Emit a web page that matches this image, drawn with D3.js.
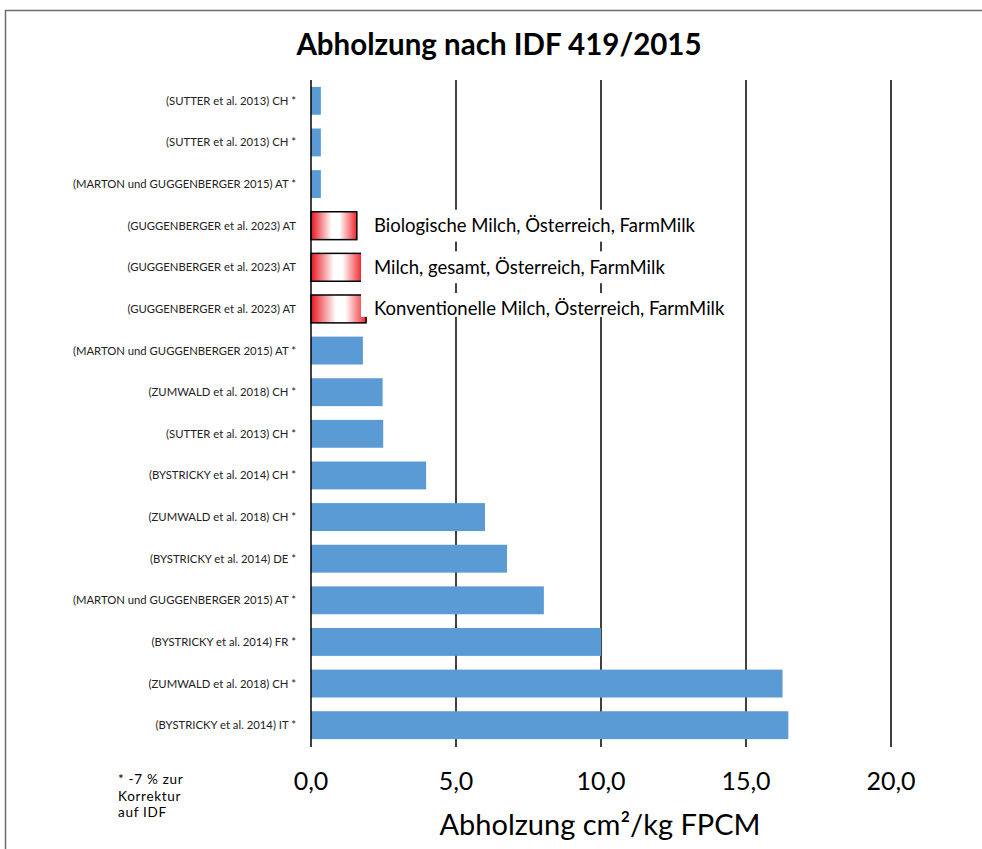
<!DOCTYPE html>
<html><head><meta charset="utf-8">
<script src="https://cdn.jsdelivr.net/npm/d3@7"></script>
<style>body{margin:0;background:#fff;}svg{display:block;}</style>
</head><body>
<script>
const categories = [
  "(SUTTER et al. 2013) CH *",
  "(SUTTER et al. 2013) CH *",
  "(MARTON und GUGGENBERGER 2015) AT *",
  "(GUGGENBERGER et al. 2023) AT",
  "(GUGGENBERGER et al. 2023) AT",
  "(GUGGENBERGER et al. 2023) AT",
  "(MARTON und GUGGENBERGER 2015) AT *",
  "(ZUMWALD et al. 2018) CH *",
  "(SUTTER et al. 2013) CH *",
  "(BYSTRICKY et al. 2014) CH *",
  "(ZUMWALD et al. 2018) CH *",
  "(BYSTRICKY et al. 2014) DE *",
  "(MARTON und GUGGENBERGER 2015) AT *",
  "(BYSTRICKY et al. 2014) FR *",
  "(ZUMWALD et al. 2018) CH *",
  "(BYSTRICKY et al. 2014) IT *"
];
const values = [0.34, 0.34, 0.34, 1.58, 1.75, 1.9, 1.79, 2.47, 2.49, 3.97, 6.0, 6.76, 8.03, 10.0, 16.26, 16.46];
const highlighted = [false, false, false, true, true, true, false, false, false, false, false, false, false, false, false, false];
const annotations = [
  {row: 3, text: "Biologische Milch, Österreich, FarmMilk"},
  {row: 4, text: "Milch, gesamt, Österreich, FarmMilk"},
  {row: 5, text: "Konventionelle Milch, Österreich, FarmMilk"}
];
const xTicks = [0, 5, 10, 15, 20];
const footnote = ["* -7 % zur", "Korrektur", "auf IDF"];

const W = 982, H = 849;
const svg = d3.select("body").append("svg").attr("width", W).attr("height", H);
const font = "Lato, 'Open Sans', sans-serif";

// gradient for highlighted bars
const defs = svg.append("defs");
const grad = defs.append("linearGradient").attr("id", "redgrad").attr("x1", "0%").attr("x2", "100%");
grad.append("stop").attr("offset", "0%").attr("stop-color", "#e8141c");
grad.append("stop").attr("offset", "45%").attr("stop-color", "#ffffff");
grad.append("stop").attr("offset", "62%").attr("stop-color", "#ffffff");
grad.append("stop").attr("offset", "100%").attr("stop-color", "#f0262e");

// frame
svg.append("rect").attr("x", 5.5).attr("y", 10.5).attr("width", 990).attr("height", 860)
  .attr("fill", "none").attr("stroke", "#6e6e6e").attr("stroke-width", 1.5);

const x = d3.scaleLinear().domain([0, 20]).range([311, 891]);
const y = d3.scaleBand().domain(d3.range(categories.length)).range([80, 746])
  .paddingInner(0.33).paddingOuter(0.165);

// gridlines
svg.append("g").selectAll("line").data(xTicks.slice(1)).join("line")
  .attr("x1", d => x(d)).attr("x2", d => x(d)).attr("y1", 80).attr("y2", 747)
  .attr("stroke", "#000").attr("stroke-width", 1.5);

// bars
svg.append("g").selectAll("rect").data(values).join("rect")
  .attr("x", x(0)).attr("y", (d, i) => y(i))
  .attr("width", d => x(d) - x(0)).attr("height", y.bandwidth())
  .attr("fill", (d, i) => highlighted[i] ? "url(#redgrad)" : "#5b9bd5")
  .attr("stroke", (d, i) => highlighted[i] ? "#000" : "none")
  .attr("stroke-width", 1.5);

// axis line at 0
svg.append("line").attr("x1", x(0)).attr("x2", x(0)).attr("y1", 80).attr("y2", 747)
  .attr("stroke", "#000").attr("stroke-width", 1.5);

// annotation boxes (white background overlapping bar ends) + text
const ann = svg.append("g").selectAll("g").data(annotations).join("g");
ann.append("rect").attr("x", 361).attr("y", d => y(d.row) - 2)
  .attr("width", 372).attr("height", d => d.row === 5 ? y.bandwidth() - 4 : y.bandwidth() + 4)
  .attr("fill", "#fff");
ann.append("text").attr("x", 374).attr("y", d => y(d.row) + y.bandwidth() / 2)
  .attr("dy", "0.35em").attr("font-family", font).attr("font-size", 18.5).attr("fill", "#000")
  .text(d => d.text);

// category labels
svg.append("g").selectAll("text").data(categories).join("text")
  .attr("x", 296).attr("y", (d, i) => y(i) + y.bandwidth() / 2).attr("dy", "0.35em")
  .attr("text-anchor", "end").attr("font-family", font).attr("font-size", 11.3).attr("fill", "#222")
  .text(d => d);

// x tick labels
svg.append("g").selectAll("text").data(xTicks).join("text")
  .attr("x", d => x(d)).attr("y", 790).attr("text-anchor", "middle")
  .attr("font-family", font).attr("font-size", 25).attr("fill", "#000")
  .text(d => d3.format(".1f")(d).replace(".", ","));

// axis title
svg.append("text").attr("x", 600).attr("y", 835).attr("text-anchor", "middle")
  .attr("font-family", font).attr("font-size", 29).attr("fill", "#000")
  .text("Abholzung cm²/kg FPCM");

// title
svg.append("text").attr("x", 499).attr("y", 55).attr("text-anchor", "middle")
  .attr("font-family", font).attr("font-size", 29.5).attr("font-weight", "bold").attr("fill", "#000")
  .text("Abholzung nach IDF 419/2015");

// footnote
svg.append("g").selectAll("text").data(footnote).join("text")
  .attr("x", 118).attr("y", (d, i) => 784 + i * 16.5)
  .attr("font-family", font).attr("font-size", 13.5).attr("letter-spacing", 0.7).attr("fill", "#000")
  .text(d => d);
</script>
</body></html>
